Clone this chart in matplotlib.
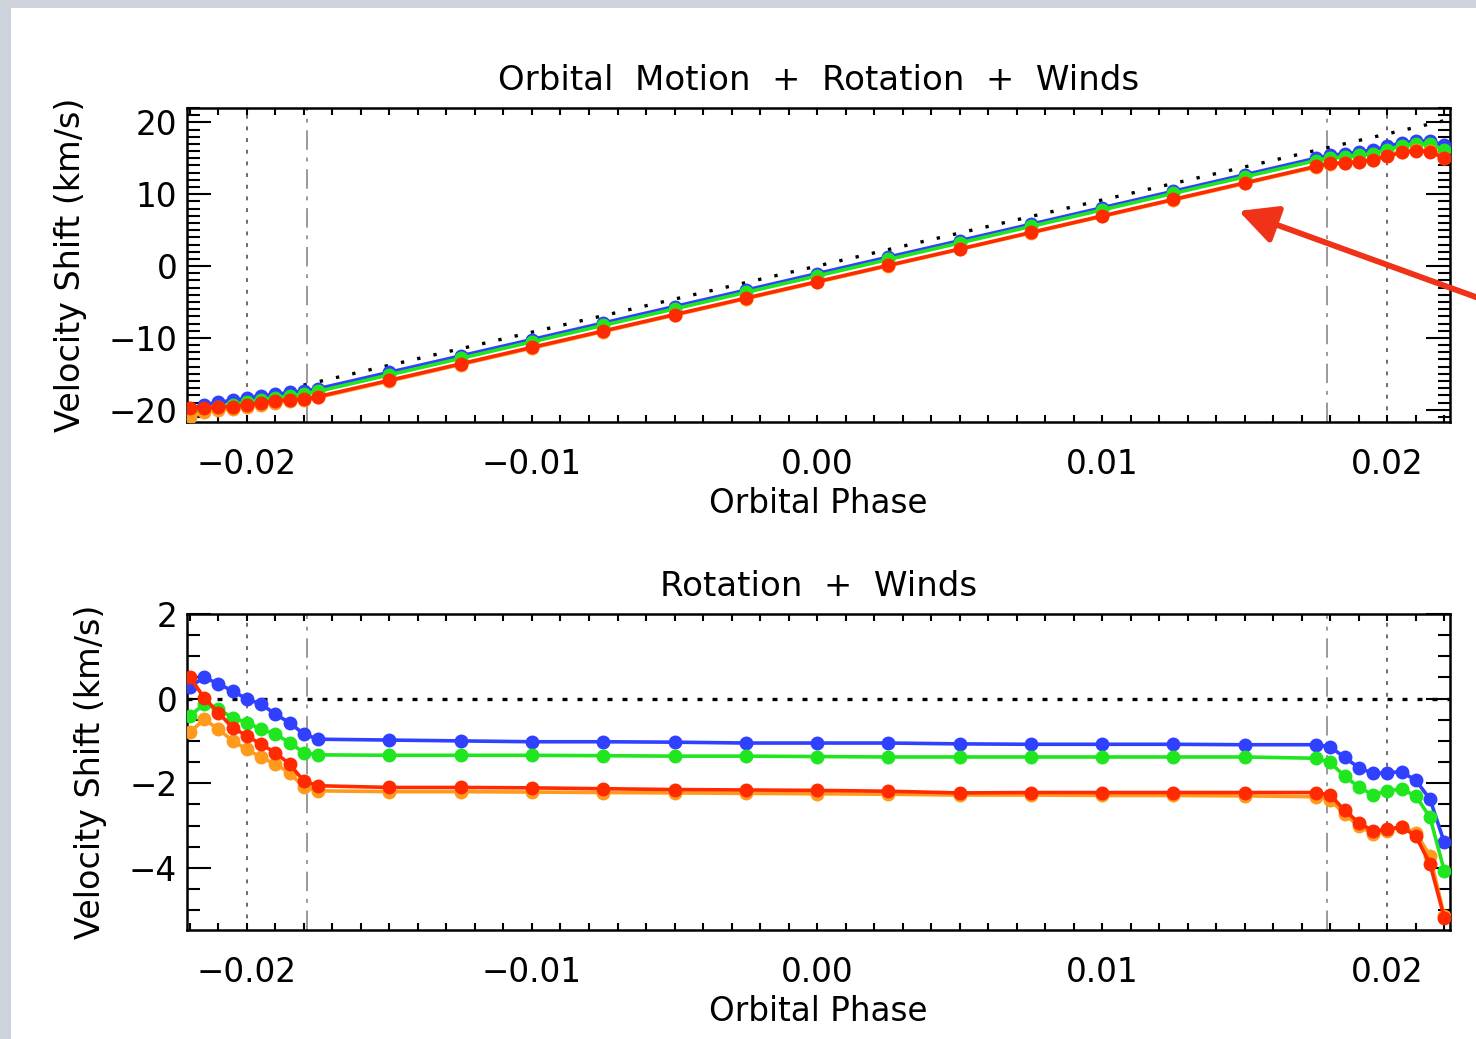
import matplotlib
matplotlib.use("Agg")
import matplotlib.pyplot as plt
import numpy as np
from matplotlib.patches import Rectangle, FancyArrowPatch
from matplotlib.ticker import MultipleLocator

plt.rcParams['font.family'] = ['DejaVu Sans']

# Orbital phase samples (dense near ingress/egress)
phase = [-0.0220, -0.0215, -0.0210, -0.0205, -0.0200, -0.0195, -0.0190, -0.0185, -0.0180, -0.0175,
         -0.0150, -0.0125, -0.0100, -0.0075, -0.0050, -0.0025, 0.0000,
         0.0025, 0.0050, 0.0075, 0.0100, 0.0125, 0.0150,
         0.0175, 0.0180, 0.0185, 0.0190, 0.0195, 0.0200, 0.0205, 0.0210, 0.0215, 0.0220]

# Pure orbital motion (km/s)
orbital = [-20.24, -19.78, -19.32, -18.86, -18.40, -17.94, -17.48, -17.02, -16.56, -16.10,
           -13.80, -11.50, -9.20, -6.90, -4.60, -2.30, 0.00,
           2.30, 4.60, 6.90, 9.20, 11.50, 13.80,
           16.10, 16.56, 17.02, 17.48, 17.94, 18.40, 18.86, 19.32, 19.78, 20.24]

# Rotation + winds velocity shifts (km/s)
shift_blue = [0.28, 0.50, 0.35, 0.18, -0.01, -0.13, -0.37, -0.57, -0.84, -0.96,
              -0.98, -1.00, -1.02, -1.02, -1.03, -1.05, -1.05,
              -1.05, -1.07, -1.08, -1.08, -1.08, -1.09,
              -1.09, -1.14, -1.39, -1.63, -1.77, -1.75, -1.73, -1.93, -2.38, -3.40]
shift_green = [-0.41, -0.13, -0.25, -0.45, -0.57, -0.72, -0.84, -1.04, -1.28, -1.33,
               -1.34, -1.34, -1.34, -1.35, -1.36, -1.36, -1.37,
               -1.38, -1.38, -1.38, -1.38, -1.38, -1.38,
               -1.41, -1.51, -1.83, -2.09, -2.28, -2.18, -2.14, -2.30, -2.81, -4.07]
shift_orange = [-0.80, -0.49, -0.72, -1.00, -1.20, -1.39, -1.55, -1.75, -2.10, -2.18,
                -2.20, -2.20, -2.21, -2.22, -2.23, -2.24, -2.25,
                -2.26, -2.28, -2.28, -2.29, -2.29, -2.30,
                -2.32, -2.39, -2.73, -3.01, -3.19, -3.13, -3.03, -3.17, -3.72, -5.14]
shift_red = [0.51, 0.02, -0.33, -0.69, -0.88, -1.08, -1.28, -1.55, -1.95, -2.06,
             -2.10, -2.10, -2.11, -2.13, -2.15, -2.16, -2.17,
             -2.19, -2.23, -2.22, -2.22, -2.22, -2.22,
             -2.22, -2.28, -2.64, -2.93, -3.13, -3.09, -3.03, -3.25, -3.91, -5.18]

# Contact phases marked by vertical lines
contacts_outer = [-0.0200, 0.0200]
contacts_inner = [-0.0179, 0.0179]

x_ticks = [-0.02, -0.01, 0.00, 0.01, 0.02]
x_ticklabels = ['\u22120.02', '\u22120.01', '0.00', '0.01', '0.02']

series_colors = {'blue': '#3040ff', 'green': '#20e620', 'orange': '#ff9a1c', 'red': '#ff2a00'}

fig = plt.figure(figsize=(14.76, 10.39), dpi=100)
fig.patch.set_facecolor('#cdd3db')

# White page area behind the plots
bg = fig.add_axes([0, 0, 1, 1], zorder=-10)
bg.set_xlim(0, 1476)
bg.set_ylim(1039, 0)
bg.axis('off')
bg.add_patch(Rectangle((11, 8), 1476 - 11, 1039 - 8, facecolor='white', edgecolor='none'))

ax1 = fig.add_axes([187 / 1476, 1 - 422 / 1039, (1450 - 187) / 1476, (422 - 108) / 1039])
ax2 = fig.add_axes([187 / 1476, 1 - 930 / 1039, (1450 - 187) / 1476, (930 - 614) / 1039])

ph = np.array(phase)
orb = np.array(orbital)
shifts = [('blue', shift_blue), ('green', shift_green), ('orange', shift_orange), ('red', shift_red)]

FS = 23.5
FS_TITLE = 24.5
LW = 2.6
MS = 9

def style_axes(ax, title, ylim, major, minor, ylabel_x):
    ax.set_xlim(-0.0221, 0.0222)
    ax.set_ylim(*ylim)
    ax.set_xticks(x_ticks)
    ax.set_xticklabels(x_ticklabels)
    ax.xaxis.set_minor_locator(MultipleLocator(0.001))
    ax.yaxis.set_major_locator(MultipleLocator(major))
    ax.yaxis.set_minor_locator(MultipleLocator(minor))
    ax.tick_params(axis='x', which='both', direction='in', top=True, bottom=True,
                   length=5, width=1.5, labelsize=FS, pad=19)
    ax.tick_params(axis='y', which='major', direction='in', left=True, right=True,
                   length=17, width=1.5, labelsize=FS, pad=7)
    ax.tick_params(axis='y', which='minor', direction='in', left=True, right=True,
                   length=9, width=1.5)
    for s in ax.spines.values():
        s.set_linewidth(1.8)
    ax.set_title(title, fontsize=FS_TITLE, pad=13)
    ax.set_xlabel('Orbital Phase', fontsize=FS, labelpad=4)
    ax.set_ylabel('Velocity Shift (km/s)', fontsize=24)
    ax.yaxis.set_label_coords(ylabel_x, 0.5)
    for c in contacts_outer:
        ax.axvline(c, color='#6a6a6a', lw=1.4, ls=(0, (2, 4)), zorder=1)
    for c in contacts_inner:
        ax.axvline(c, color='#9a9a9a', lw=1.4, ls=(0, (10, 4, 2, 4)), zorder=1)

# Top: orbital motion + rotation + winds
style_axes(ax1, 'Orbital  Motion  +  Rotation  +  Winds', (-21.7, 22.0), 10, 1, -0.079)
ax1.plot(ph, orb, color='black', lw=2.4, ls=(0, (1, 4.0)), zorder=2)
for name, vals in shifts:
    ax1.plot(ph, orb + np.array(vals), color=series_colors[name], lw=LW,
             marker='o', ms=MS, zorder=3)

# Bottom: rotation + winds only
style_axes(ax2, 'Rotation  +  Winds', (-5.47, 2.0), 2, 0.5, -0.063)
ax2.axhline(0, color='black', lw=2.4, ls=(0, (1.5, 3.0)), zorder=2)
for name, vals in shifts:
    ax2.plot(ph, vals, color=series_colors[name], lw=LW, marker='o', ms=MS, zorder=3)

# Pointer arrow toward the top curves
arrow = FancyArrowPatch((1495 / 1476, 1 - 304 / 1039), (1236 / 1476, 1 - 210 / 1039),
                        transform=fig.transFigure, arrowstyle='-|>,head_length=1.3,head_width=0.65',
                        mutation_scale=18, color='#f03218', lw=4.2, zorder=10)
fig.patches.append(arrow)

fig.savefig('out.png', dpi=100, facecolor=fig.get_facecolor())
